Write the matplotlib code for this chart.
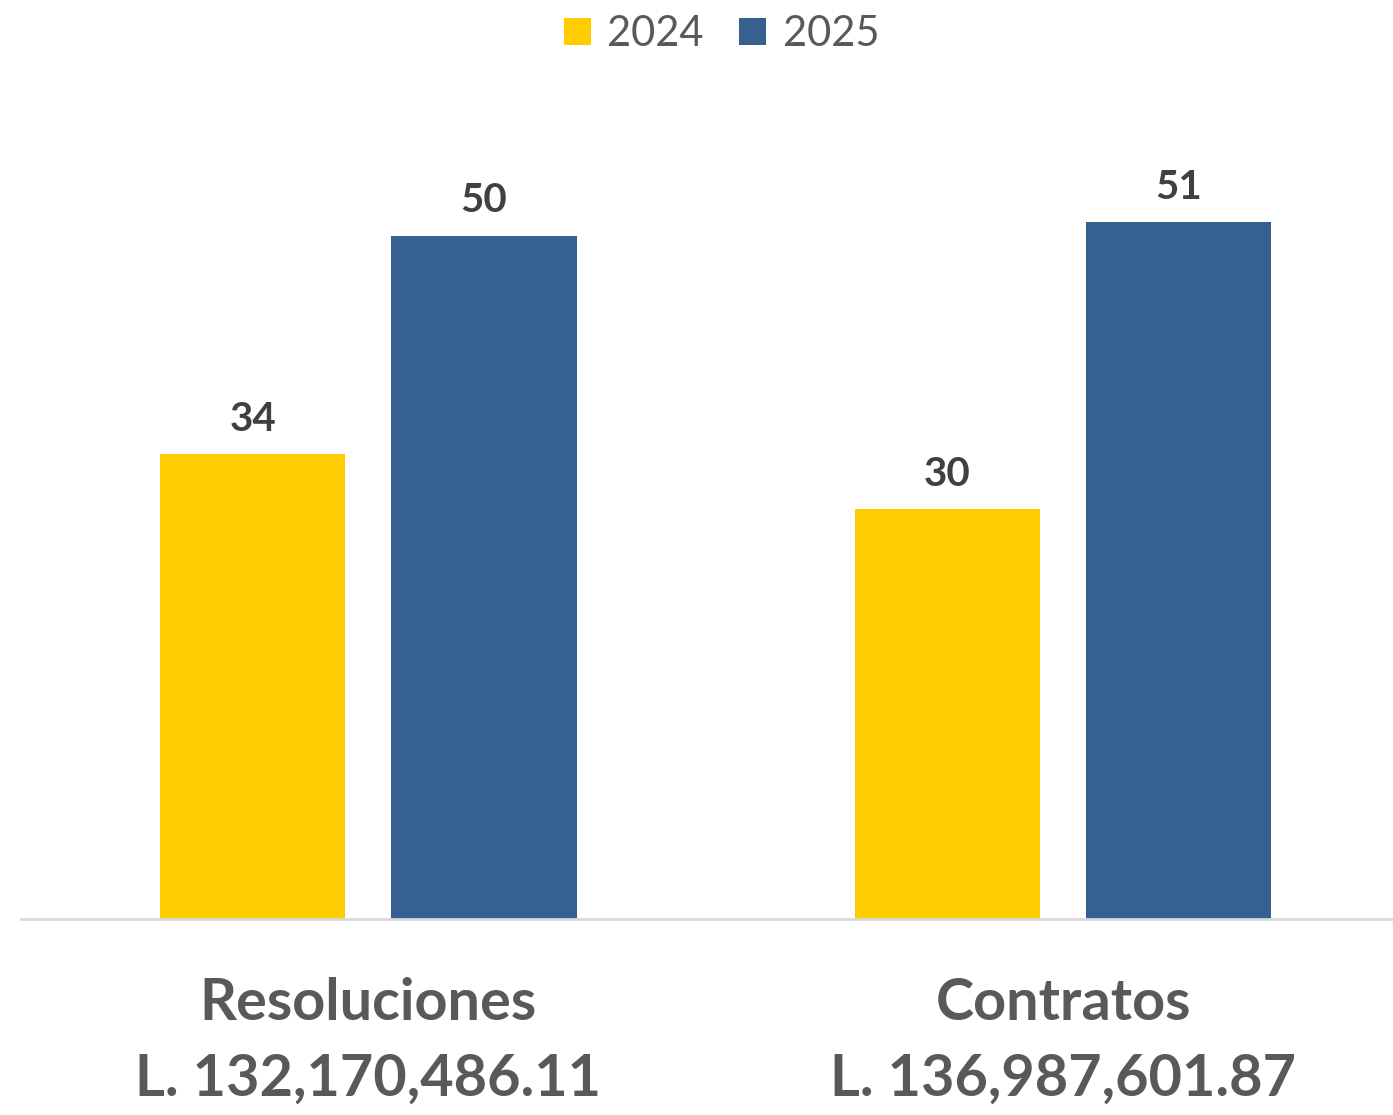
import numpy as np
import matplotlib
matplotlib.use('Agg')
from matplotlib import pyplot as plt

categorias = ['Resoluciones\nL. 132,170,486.11', 'Contratos\nL. 136,987,601.87']
anios = ['2024', '2025']
v2024 = [34, 30]
v2025 = [50, 51]

colores = ['#FFCC00', '#36608F']

plt.rcParams['font.family'] = ['Lato', 'DejaVu Sans']

fig = plt.figure(figsize=(13.93, 11.15), dpi=100)
ax = fig.add_axes([21/1393, 196/1115, 1372/1393, 820/1115])

x = np.arange(len(categorias))
w = 0.2664
off = 0.1665
b1 = ax.bar(x - off, v2024, w, color=colores[0], label=anios[0])
b2 = ax.bar(x + off, v2025, w, color=colores[1], label=anios[1])

for bars in (b1, b2):
    for r in bars:
        ax.text(r.get_x() + r.get_width()/2, r.get_height() + 1.2, str(int(r.get_height())),
                ha='center', va='bottom', fontsize=29, fontweight='bold', color='#404040')

ax.set_xlim(-0.5, 1.475)
ax.set_ylim(0, 60)
ax.set_xticks(x)
ax.set_xticklabels(categorias, fontsize=41.5, fontweight='bold', color='#595959', linespacing=1.51)
ax.tick_params(axis='x', length=0, pad=42)
ax.set_yticks([])
for s in ['top', 'right', 'left']:
    ax.spines[s].set_visible(False)
ax.spines['bottom'].set_color('#D9D9D9')
ax.spines['bottom'].set_linewidth(2)

leg = fig.legend(loc='upper center', bbox_to_anchor=(0.518, 1.02), ncol=2, frameon=False,
                 fontsize=30, handlelength=0.65, handleheight=0.65, handletextpad=0.4,
                 columnspacing=0.85, labelcolor='#595959')

plt.savefig('out.png', dpi=100)
